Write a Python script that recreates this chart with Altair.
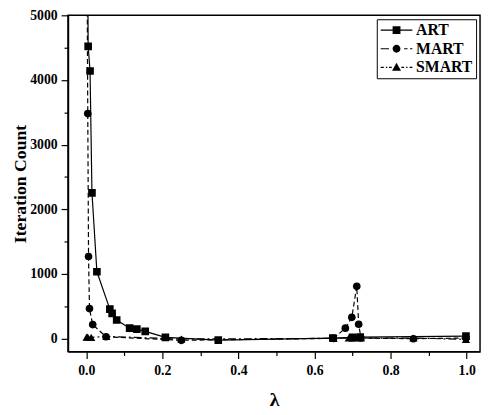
import altair as alt
import pandas as pd

# ---- data ----
series_names = ["ART", "MART", "SMART"]

art_x = [0.001, 0.005, 0.010, 0.015, 0.028, 0.062, 0.068, 0.080, 0.114, 0.133, 0.155, 0.208, 0.347, 0.648, 0.700, 0.720, 0.998]
art_y = [9000, 4520, 4140, 2255, 1035, 458, 392, 290, 163, 148, 113, 21, -22, 10, 20, 25, 40]

mart_x = [0.001, 0.004, 0.006, 0.0085, 0.017, 0.052, 0.250, 0.650, 0.681, 0.698, 0.711, 0.716, 0.722, 0.860, 0.998]
mart_y = [7000, 3480, 1270, 465, 218, 30, -25, 5, 163, 330, 810, 224, 10, 0, 10]

smart_x = [0.001, 0.004, 0.013, 0.053, 0.250, 0.650, 0.690, 0.700, 0.710, 0.722, 0.860, 0.998]
smart_y = [25, 25, 20, 35, -5, 5, 10, 10, 15, 10, 10, -10]

x_ticks = [0.0, 0.1, 0.2, 0.3, 0.4, 0.5, 0.6, 0.7, 0.8, 0.9, 1.0]
y_ticks = [0, 500, 1000, 1500, 2000, 2500, 3000, 3500, 4000, 4500, 5000]

rows = []
for name, xs, ys in [("ART", art_x, art_y), ("MART", mart_x, mart_y), ("SMART", smart_x, smart_y)]:
    for xv, yv in zip(xs, ys):
        rows.append({"series": name, "lam": xv, "count": yv})
df = pd.DataFrame(rows)

FONT = "Liberation Serif"

x_scale = alt.Scale(domain=[-0.048, 1.035], nice=False, zero=False)
y_scale = alt.Scale(domain=[-200, 5000], nice=False, zero=False)

x_axis = alt.Axis(
    values=x_ticks, format=".1f", title="λ",
    labelExpr="round(datum.value*10) % 2 == 0 ? datum.label : ''",
    tickSize={"condition": {"test": "round(datum.value*10) % 2 == 0", "value": 7}, "value": 4},
    labelPadding=5, titlePadding=13, titleFontSize=20,
)
y_axis = alt.Axis(
    values=y_ticks, format="d", title="Iteration Count",
    labelExpr="datum.value % 1000 == 0 ? datum.label : ''",
    tickSize={"condition": {"test": "datum.value % 1000 == 0", "value": 7}, "value": 4},
    labelPadding=4, titlePadding=0, titleFontSize=18,
)

X = alt.X("lam:Q", scale=x_scale, axis=x_axis)
Y = alt.Y("count:Q", scale=y_scale, axis=y_axis)

base = alt.Chart(df)

styles = {
    "ART": dict(shape="square", size=60, dash=None),
    "MART": dict(shape="circle", size=60, dash=[5, 3]),
    "SMART": dict(shape="triangle-up", size=70, dash=[8, 3, 2, 3]),
}

layers = []
for name in ["SMART", "MART", "ART"]:
    st = styles[name]
    line_kwargs = dict(color="black", strokeWidth=1.2, clip=True)
    if st["dash"] is not None:
        line_kwargs["strokeDash"] = st["dash"]
    sub = base.transform_filter(alt.datum.series == name)
    layers.append(sub.mark_line(**line_kwargs).encode(x=X, y=Y))
    layers.append(
        sub.mark_point(shape=st["shape"], size=st["size"], filled=True, color="black",
                       opacity=1, clip=True).encode(x=X, y=Y)
    )

# legend symbols: line segment(s) with the marker in the middle (unit = 7 px)
line_solid = "M-1,-0.09H3.6V0.09H-1Z"
sq = "M0.73,-0.57H1.87V0.57H0.73Z"
art_path = line_solid + sq
mart_path = ("M-1,-0.09H0.2V0.09H-1Z"
             "M2.4,-0.09H2.9V0.09H2.4Z"
             "M3.25,-0.09H3.6V0.09H3.25Z"
             "M0.73,0A0.57,0.57,0,1,0,1.87,0A0.57,0.57,0,1,0,0.73,0Z")
smart_path = ("M-1,-0.09H-0.55V0.09H-1Z"
              "M-0.25,-0.09H-0.05V0.09H-0.25Z"
              "M0.2,-0.09H0.6V0.09H0.2Z"
              "M2.0,-0.09H2.4V0.09H2.0Z"
              "M2.7,-0.09H2.9V0.09H2.7Z"
              "M3.2,-0.09H3.6V0.09H3.2Z"
              "M1.3,-0.68L1.95,0.5L0.65,0.5Z")

legend_layer = base.transform_filter("datum.count > 1e9").mark_point(
    filled=True, color="black", clip=True
).encode(
    x=X, y=Y,
    shape=alt.Shape(
        "series:N",
        scale=alt.Scale(domain=series_names, range=[art_path, mart_path, smart_path]),
        legend=alt.Legend(
            title=None, orient="top-right", offset=4, padding=3,
            strokeColor="black", fillColor="white",
            labelFont=FONT, labelFontSize=16, labelFontWeight="bold", labelColor="black",
            symbolSize=196, symbolFillColor="black", symbolStrokeColor="black",
            symbolStrokeWidth=0, symbolOpacity=1, labelOffset=21, rowPadding=3,
        ),
    ),
)
layers.append(legend_layer)

chart = alt.layer(*layers).properties(
    width=419, height=342,
    autosize=alt.AutoSizeParams(type="none"),
    padding={"left": 61, "top": 4, "right": 2, "bottom": 61},
    background="white",
).configure_view(
    stroke="black", strokeWidth=1.5
).configure_axis(
    grid=False, domainColor="black", domainWidth=1.5, tickColor="black", tickWidth=1.2,
    labelFont=FONT, labelFontSize=14, labelFontWeight="bold", labelColor="black",
    titleFont=FONT, titleFontWeight="bold", titleColor="black",
)

chart.save("out.html", embed_options={"renderer": "svg", "actions": False})
